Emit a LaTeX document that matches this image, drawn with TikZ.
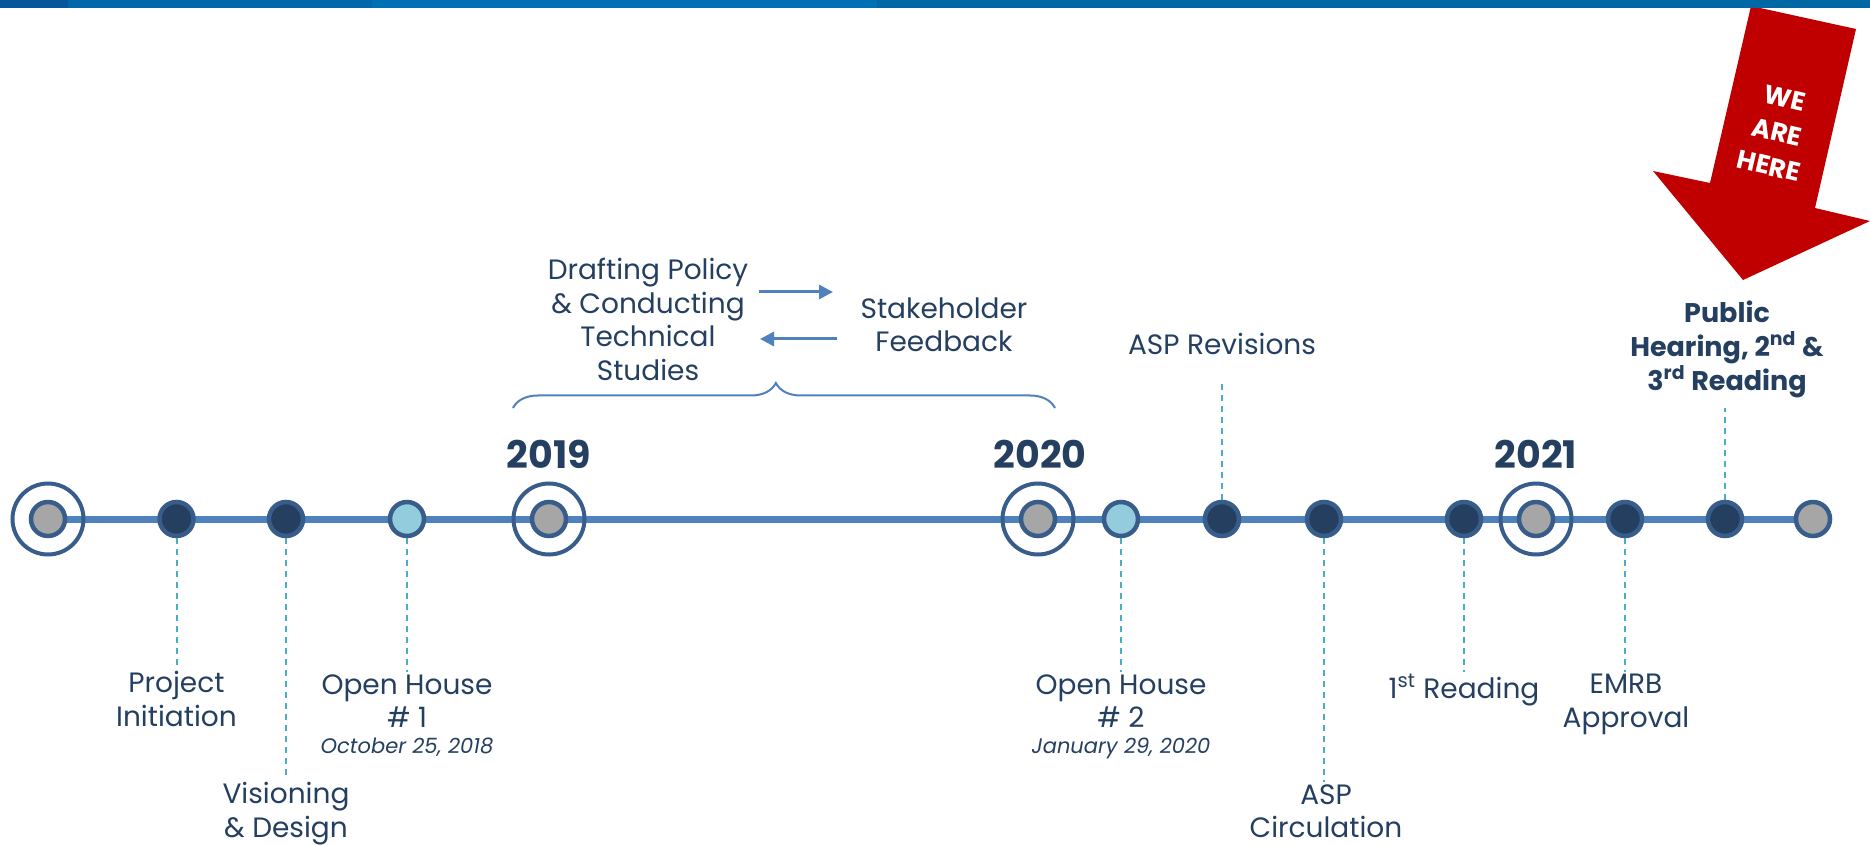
\documentclass[tikz,border=0pt]{standalone}
\usepackage{xcolor}
\usepackage{fontspec}
\setmainfont{Poppins}
\usetikzlibrary{arrows.meta,decorations.pathreplacing}

\definecolor{barA}{HTML}{06579A}
\definecolor{barB}{HTML}{0067AA}
\definecolor{barC}{HTML}{0070B5}
\definecolor{barD}{HTML}{0067A5}
\definecolor{txtblue}{HTML}{243F60}
\definecolor{navy}{HTML}{243F60}
\definecolor{rimblue}{HTML}{385D8A}
\definecolor{lineblue}{HTML}{4F81BD}
\definecolor{leadblue}{HTML}{4BACC6}
\definecolor{skyfill}{HTML}{93CDDD}
\definecolor{greyfill}{HTML}{A6A6A6}
\definecolor{herered}{HTML}{C00000}

\newcommand{\datefont}{\fontsize{10.5}{12}\selectfont\itshape}

\tikzset{
  lbl/.style={text=txtblue, font=\fontsize{14}{16.8}\selectfont, align=center, inner sep=1pt},
  boldlbl/.style={lbl, font=\fontsize{13.5}{17}\selectfont\bfseries},
  yearlbl/.style={lbl, font=\fontsize{19}{22}\selectfont\bfseries},
  herelbl/.style={lbl, text=white, font=\fontsize{13}{15}\selectfont\bfseries, rotate=-13},
  dot/.style={circle, draw=rimblue, line width=2.25pt, minimum size=17pt, inner sep=0pt},
  milestone/.style={dot, fill=navy},
  meeting/.style={dot, fill=skyfill},
  yearmark/.style={dot, fill=greyfill},
  yearring/.style={circle, draw=rimblue, line width=2pt, minimum size=35.5pt, inner sep=0pt},
  leader/.style={draw=leadblue, line width=1pt, dash pattern=on 3pt off 2.5pt},
  flow/.style={draw=lineblue, line width=1.5pt, -{Triangle[length=7pt,width=7pt]}},
}

\begin{document}
\begin{tikzpicture}[x=0.5pt,y=0.5pt,yscale=-1,xscale=1]
\useasboundingbox (0,0) rectangle (1870,845);

%Shape: We are here arrow
\fill[herered] (1751,6) -- (1856,29) -- (1815,208) -- (1870,221) -- (1743,280) -- (1653,171) -- (1710,183) -- cycle;
% Text Node
\node[herelbl] (here-a) at (1785,98) {WE};
\node[herelbl] (here-b) at (1777,132) {ARE};
\node[herelbl] (here-c) at (1769,166) {HERE};

%Shape: header bar
\fill[barA] (0,0) rectangle (68,8);
\fill[barB] (68,0) rectangle (372,8);
\fill[barC] (372,0) rectangle (877,8);
\fill[barD] (877,0) rectangle (1870,8);

%Straight Lines: time axis
\coordinate (axisL) at (48,519);
\coordinate (axisR) at (1813,519);
\draw[lineblue, line width=3.5pt] (axisL) -- (axisR);

%Year rings
\node[yearring] (r-start) at (48,519) {};
\node[yearring] (r-2019) at (549,519) {};
\node[yearring] (r-2020) at (1038,519) {};
\node[yearring] (r-2021) at (1536,519) {};

%Points on the axis
\node[yearmark] (n-start) at (48,519) {};
\node[milestone] (n-init) at (176.5,519) {};
\node[milestone] (n-vision) at (286,519) {};
\node[meeting] (n-oh1) at (407,519) {};
\node[yearmark] (n-2019) at (549,519) {};
\node[yearmark] (n-2020) at (1038,519) {};
\node[meeting] (n-oh2) at (1121,519) {};
\node[milestone] (n-rev) at (1222,519) {};
\node[milestone] (n-circ) at (1324,519) {};
\node[milestone] (n-read1) at (1464,519) {};
\node[yearmark] (n-2021) at (1536,519) {};
\node[milestone] (n-emrb) at (1625,519) {};
\node[milestone] (n-hear) at (1725,519) {};
\node[yearmark] (n-end) at (1813,519) {};

% Text Node
\node[yearlbl] (t-2019) at (549,454) {2019};
\node[yearlbl] (t-2020) at (1040,454) {2020};
\node[yearlbl] (t-2021) at (1536,454) {2021};

% Text Node
\node[lbl, anchor=north] (l-init) at (176.5,669) {Project\\Initiation};
\node[lbl, anchor=north] (l-vision) at (286,780) {Visioning\\\& Design};
\node[lbl, anchor=north] (l-oh1) at (407,672) {Open House\\\# 1\\[-4pt]{\datefont October 25, 2018}};
\node[lbl, anchor=north] (l-oh2) at (1121,672) {Open House\\\# 2\\[-4pt]{\datefont January 29, 2020}};
\node[lbl, anchor=north] (l-circ) at (1326,782) {ASP\\Circulation};
\node[lbl, anchor=north] (l-read1) at (1464,672) {1\textsuperscript{st} Reading};
\node[lbl, anchor=north] (l-emrb) at (1626,672) {EMRB\\Approval};
\node[lbl, anchor=south] (l-rev) at (1222,357) {ASP Revisions};
\node[boldlbl, anchor=south] (l-hear) at (1727,400) {Public\\Hearing, 2\textsuperscript{nd} \&\\3\textsuperscript{rd} Reading};

%Dashed leaders
\draw[leader] (n-init.south) -- (l-init.north);
\draw[leader] (n-vision.south) -- (l-vision.north);
\draw[leader] (n-oh1.south) -- (l-oh1.north);
\draw[leader] (n-oh2.south) -- (l-oh2.north);
\draw[leader] (n-circ.south) -- (l-circ.north -| n-circ);
\draw[leader] (n-read1.south) -- (l-read1.north);
\draw[leader] (n-emrb.south) -- (l-emrb.north -| n-emrb);
\draw[leader, shorten >=11pt] (n-rev.north) -- (l-rev.south);
\draw[leader, shorten >=4pt] (n-hear.north) -- (l-hear.south -| n-hear);

% Text Node
\node[lbl, anchor=north] (draft) at (648,256) {Drafting Policy\\\& Conducting\\Technical\\Studies};
\node[lbl, anchor=north] (stake) at (944,295) {Stakeholder\\Feedback};

%Arrows between the two
\coordinate (fw-a) at (759,292);
\coordinate (fw-b) at (833,292);
\coordinate (bk-a) at (837,339);
\coordinate (bk-b) at (760,339);
\draw[flow] (fw-a) -- (fw-b);
\draw[flow] (bk-a) -- (bk-b);

%Brace over 2019--2020
\coordinate (brL) at (513,408);
\coordinate (brR) at (1055,408);
\draw[lineblue, line width=1pt, decorate, decoration={brace, amplitude=12.5pt, aspect=0.485}] (brL) -- (brR);

\end{tikzpicture}
\end{document}
